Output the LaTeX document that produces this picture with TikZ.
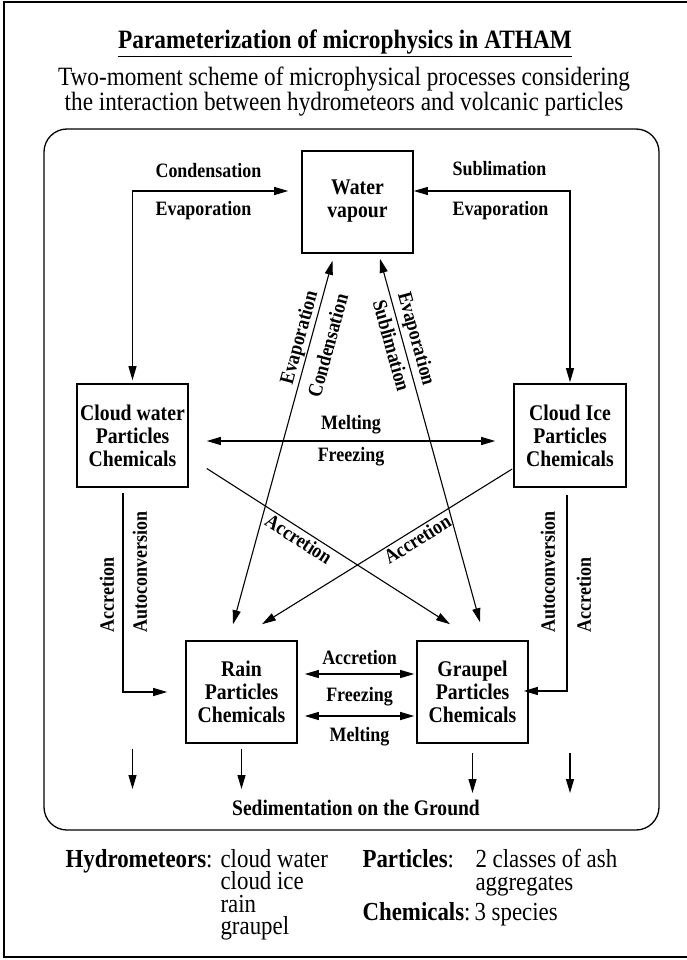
\documentclass[tikz,border=0pt]{standalone}
\usepackage{fontspec}
\setmainfont{Liberation Serif}[FakeStretch=0.88]
\usetikzlibrary{arrows.meta}

\newcommand\titlefont{\fontsize{26.5}{28}\selectfont\bfseries}
\newcommand\subfont{\fontsize{26.4}{24}\selectfont}
\newcommand\boxfont{\fontsize{22.4}{23}\selectfont\bfseries}
\newcommand\lblfont{\fontsize{20.4}{20}\selectfont\bfseries}
\newcommand\legfont{\fontsize{26}{22.3}\selectfont}

\begin{document}
\begin{tikzpicture}[
  x=1pt, y=-1pt,
  line width=1.1pt,
  >={Triangle[length=14pt,width=8pt]},
  box/.style={draw, line width=1.6pt, minimum width=111pt, minimum height=102pt,
    inner sep=0pt, align=center, font=\boxfont},
  lbl/.style={font=\lblfont, inner sep=3pt},
  legend/.style={font=\legfont, inner sep=3pt}
]
\useasboundingbox (0,0) rectangle (687,960);

% frames
\draw[line width=2.5pt] (4,2) rectangle (695,957);
\draw[line width=1.3pt, rounded corners=23pt] (44,129) rectangle (659,830);

% heading
\node[font=\titlefont, anchor=base] (title) at (345,49)
  {\underline{Parameterization of microphysics in ATHAM}};
\node[font=\subfont, align=center, anchor=north] (sub) at (344,63)
  {Two-moment scheme of microphysical processes considering\\
   the interaction between hydrometeors and volcanic particles};

% boxes
\node[box] (wv) at (357.5,202) {Water\\vapour\\[-16pt]\mbox{}};
\node[box, minimum height=103pt] (cw) at (132.5,435.5) {Cloud water\\Particles\\Chemicals};
\node[box, minimum width=112pt, minimum height=103pt] (ci) at (570,435.5) {Cloud Ice\\Particles\\Chemicals};
\node[box] (rn) at (241.5,692) {Rain\\Particles\\Chemicals};
\node[box] (gp) at (472.5,692) {Graupel\\Particles\\Chemicals};

% vapour exchange
\draw[<->] ([shift={(-13,-11)}]wv.west) -| ([shift={(0,-3)}]cw.north);
\draw[<->] ([shift={(0,-11)}]wv.east) -| ([shift={(0,-1)}]ci.north);
\node[lbl, anchor=west] (cdL) at (152,171) {Condensation};
\node[lbl, anchor=west] (evL) at (152,211) {Evaporation};
\node[lbl, anchor=west] (sbR) at (449,169) {Sublimation};
\node[lbl, anchor=west] (evR) at (449,211) {Evaporation};

\draw[<->] ([shift={(-8.5,-16)}]rn.north) --
  node[lbl, sloped, above=-2pt, pos=0.78] (evA) {Evaporation}
  node[lbl, sloped, below=7pt, pos=0.78] (cdA) {Condensation}
  ([shift={(-25,7)}]wv.south);
\draw[<->] ([shift={(22.5,5)}]wv.south) --
  node[lbl, sloped, below=1pt, pos=0.23] (sbB) {Sublimation}
  node[lbl, sloped, above, pos=0.23] (evB) {Evaporation}
  ([shift={(7.5,-18)}]gp.north);

% melting / freezing
\draw[<->] ([shift={(18,5.5)}]cw.east) --
  node[lbl, above=3pt] (mlA) {Melting}
  node[lbl, below=3pt] (frA) {Freezing}
  ([shift={(-18,5.5)}]ci.west);

% accretion crossing
\draw[->] ([shift={(18,33)}]cw.east) --
  node[lbl, sloped, below=-1pt, pos=0.4] (acD) {Accretion}
  ([shift={(-22.5,-16)}]gp.north);
\draw[<-] ([shift={(20.5,-16)}]rn.north) --
  node[lbl, sloped, below=-1pt, pos=0.6] (acE) {Accretion}
  ([shift={(-1,33.5)}]ci.west);

% autoconversion
\draw[->] ([shift={(-9.5,5)}]cw.south) |- ([shift={(-18,0)}]rn.west);
\draw[->] ([shift={(-3,7)}]ci.south) |- ([shift={(-5,-1)}]gp.east);
\node[lbl, rotate=90, anchor=west] (acL) at (107,636) {Accretion};
\node[lbl, rotate=90, anchor=west] (auL) at (140,636) {Autoconversion};
\node[lbl, rotate=90, anchor=west] (auR) at (548,636) {Autoconversion};
\node[lbl, rotate=90, anchor=west] (acR) at (584,636) {Accretion};

% rain - graupel
\draw[<->] ([shift={(7,-18)}]rn.east) --
  node[lbl, above=6pt] (acC) {Accretion}
  ([shift={(-2,-18)}]gp.west);
\draw[<->] ([shift={(7,24)}]rn.east) --
  node[lbl, above=6pt] (frC) {Freezing}
  node[lbl, below=8pt] (mlC) {Melting}
  ([shift={(-2,24)}]gp.west);

% sedimentation
\coordinate (sedtop) at (0,749);
\coordinate (sedbot) at (0,789);
\foreach \b in {cw, rn}
  \draw[->] (\b.south |- sedtop) -- (\b.south |- sedbot);
\foreach \b in {gp, ci}
  \draw[->] ([shift={(0,4)}]\b.south |- sedtop) -- ([shift={(0,4)}]\b.south |- sedbot);
\node[lbl, font=\fontsize{22.2}{22}\selectfont\bfseries] (sed) at (356,808)
  {Sedimentation on the Ground};

% legend
\node[legend, anchor=base west] (hyd) at (62,867) {\textbf{Hydrometeors}:};
\node[legend, align=left, anchor=north west] (hydl) at (217,846)
  {cloud water\\cloud ice\\rain\\graupel};
\node[legend, anchor=base west] (par) at (359,867) {\textbf{Particles}:};
\node[legend, align=left, anchor=north west] (parl) at (472,846)
  {2 classes of ash\\aggregates};
\node[legend, anchor=base west] (chem) at (359,920) {\textbf{Chemicals}:};
\node[legend, anchor=base west] (chml) at (471,920) {3 species};
\end{tikzpicture}
\end{document}
